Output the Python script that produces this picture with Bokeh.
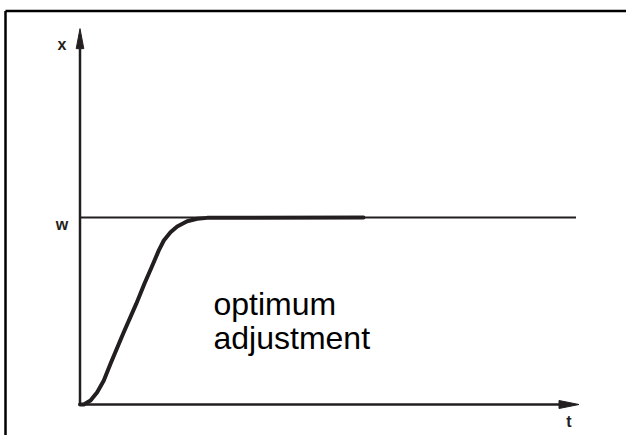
from bokeh.plotting import figure
from bokeh.models import Range1d, ColumnDataSource
from bokeh.core.properties import value
from bokeh.embed import file_html
from bokeh.resources import INLINE

# ---- data ----
# step response: time t and controlled variable x (setpoint w = 1)
t_resp = [0.0, 0.076, 0.21, 0.344, 0.476, 0.61, 0.864, 1.124, 1.29, 1.43, 1.576,
          1.676, 1.81, 1.944, 2.144, 2.344, 2.544, 5.67]
x_resp = [0.0, 0.0, 0.021, 0.066, 0.128, 0.218, 0.380, 0.538, 0.647, 0.733, 0.824,
          0.877, 0.921, 0.952, 0.980, 0.993, 0.998, 1.0]
w_level = 1.0
t_end = 9.92      # end of setpoint line
t_axis_end = 9.98 # arrow tip on time axis
x_axis_end = 2.01 # arrow tip on x axis

axis_labels = ["x", "w", "t"]
axis_label_t = [-0.36, -0.36, 9.78]
axis_label_x = [1.925, 0.963, -0.091]

note_lines = ["optimum", "adjustment"]
note_t = [2.67, 2.67]
note_x = [0.540, 0.353]

# ---- layout helpers (pixel scale of the drawing) ----
W, H = 626, 435
px_per_t = 50.0
px_per_x = 187.0
origin_px = 79.5
origin_py = 404

x_start = -origin_px / px_per_t
x_end = (W - origin_px) / px_per_t
y_start = -(H - origin_py) / px_per_x
y_end = origin_py / px_per_x

ink = "#231f20"

p = figure(width=W, height=H, output_backend="svg", toolbar_location=None,
           x_range=Range1d(x_start, x_end), y_range=Range1d(y_start, y_end),
           min_border=0, outline_line_color=None)
p.xaxis.visible = False
p.yaxis.visible = False
p.xgrid.visible = False
p.ygrid.visible = False
p.background_fill_color = "white"

# frame (top and left edges visible)
frame_top = (origin_py - 10.5) / px_per_x
frame_left = (5 - origin_px) / px_per_t
p.line([frame_left, x_end], [frame_top, frame_top], line_color="black", line_width=2.5)
p.line([frame_left, frame_left], [y_start, frame_top], line_color="black", line_width=2.5)

# axes with arrow heads
head_len_t = 20 / px_per_t
head_half_x = 4 / px_per_x
head_len_x = 20 / px_per_x
head_half_t = 3.8 / px_per_t

p.line([0, t_axis_end - head_len_t], [0, 0], line_color=ink, line_width=2.5)
p.patch([t_axis_end, t_axis_end - head_len_t, t_axis_end - head_len_t],
        [0, head_half_x, -head_half_x], fill_color=ink, line_color=ink, line_width=1)

p.line([0, 0], [0, x_axis_end - head_len_x], line_color=ink, line_width=2.5)
p.patch([0, head_half_t, -head_half_t],
        [x_axis_end, x_axis_end - head_len_x, x_axis_end - head_len_x],
        fill_color=ink, line_color=ink, line_width=1)

# setpoint line
p.line([0, t_end], [w_level, w_level], line_color=ink, line_width=2)

# response curve
p.line(t_resp, x_resp, line_color=ink, line_width=4, line_join="round", line_cap="round")

# axis labels
lab = ColumnDataSource(dict(t=axis_label_t, x=axis_label_x, s=axis_labels))
p.text(x="t", y="x", text="s", source=lab, text_font=value("Liberation Sans"),
       text_font_size="16px", text_font_style="bold", text_color=ink,
       text_align="center", text_baseline="alphabetic")

# annotation
note = ColumnDataSource(dict(t=note_t, x=note_x, s=note_lines))
p.text(x="t", y="x", text="s", source=note, text_font=value("Liberation Sans"),
       text_font_size="32px", text_color="black",
       text_align="left", text_baseline="alphabetic")

open("out.html", "w").write(file_html(p, INLINE))
